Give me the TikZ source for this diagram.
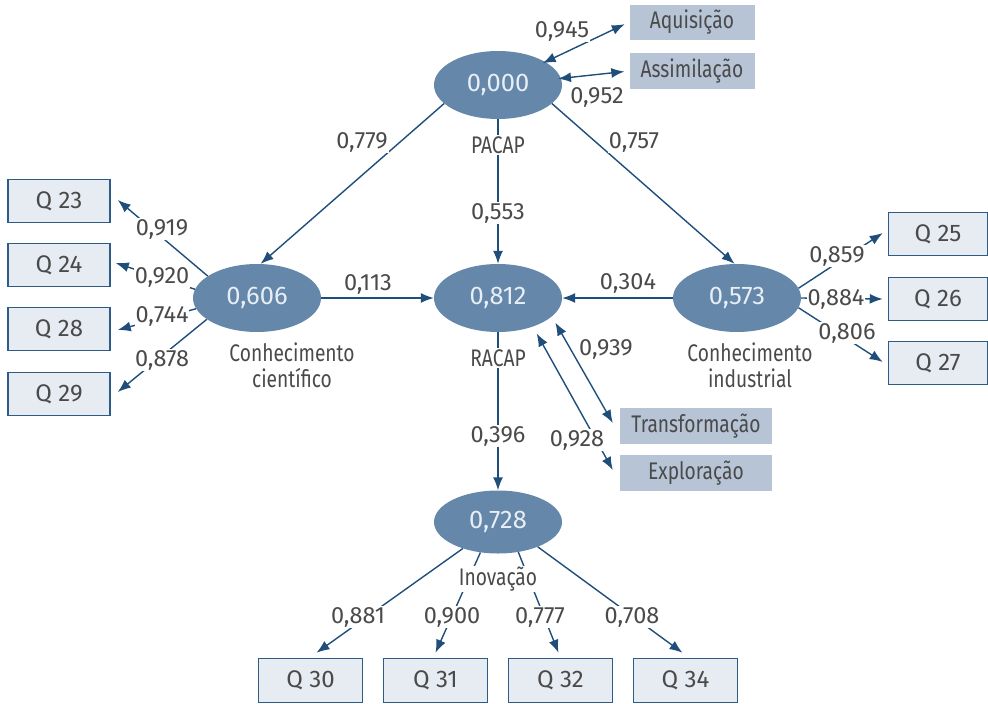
\documentclass[tikz,border=0pt]{standalone}
\usepackage{fontspec}
\setmainfont{Fira Sans}[FakeStretch=0.8]
\newfontfamily\numfont{Fira Sans}
\usetikzlibrary{shapes.geometric,arrows.meta}
\definecolor{ellfill}{HTML}{6587AA}
\definecolor{elltxt}{HTML}{E8EEF5}
\definecolor{arrcol}{HTML}{1F4E7A}
\definecolor{qfill}{HTML}{E7ECF3}
\definecolor{qborder}{HTML}{2E5C88}
\definecolor{gfill}{HTML}{B7C4D6}
\definecolor{txtcol}{HTML}{4A4A4A}
\begin{document}
\begin{tikzpicture}[x=1pt,y=-1pt,
  font=\fontsize{24}{26}\selectfont,
  lat/.style={ellipse, fill=ellfill, minimum width=128pt, minimum height=68pt, inner sep=0pt, text=elltxt, font=\numfont\fontsize{25.5}{28}\selectfont},
  qbox/.style={draw=qborder, line width=1.5pt, fill=qfill, text=txtcol, minimum width=102pt, minimum height=43pt, inner sep=0pt, font=\numfont\fontsize{24}{26}\selectfont},
  gbox/.style={fill=gfill, text=txtcol, minimum height=36pt, inner sep=0pt},
  arr/.style={draw=arrcol, line width=1.4pt, -{Latex[length=13pt,width=10pt]}},
  darr/.style={draw=arrcol, line width=1.4pt, {Latex[length=13pt,width=10pt]}-{Latex[length=13pt,width=10pt]}},
  lbl/.style={text=txtcol, fill=white, inner sep=1pt},
  num/.style={lbl, font=\numfont\fontsize{23.5}{26}\selectfont},
  captxt/.style={text=txtcol, align=center, inner sep=0pt},
]
\useasboundingbox (0,0) rectangle (988,704);

% latent variables
\node[lat] (pacap) at (498,85) {0,000};
\node[lat] (racap) at (498,298) {0,812};
\node[lat] (cc) at (257,298) {0,606};
\node[lat] (ci) at (737,298) {0,573};
\node[lat, minimum height=63pt] (inov) at (498,522) {0,728};

% grey dimension boxes
\node[gbox, minimum width=125pt, minimum height=35pt] (aq) at (692,22) {Aquisição};
\node[gbox, minimum width=125pt] (as) at (692,71) {Assimilação};
\node[gbox, minimum width=152pt] (tr) at (696,426) {Transformação};
\node[gbox, minimum width=152pt] (ex) at (696,473) {Exploração};

% indicator boxes
\node[qbox] (q23) at (59,201) {Q 23};
\node[qbox] (q24) at (59,265) {Q 24};
\node[qbox] (q28) at (59,329) {Q 28};
\node[qbox] (q29) at (59,394) {Q 29};
\node[qbox, minimum width=99pt] (q25) at (938,234) {Q 25};
\node[qbox, minimum width=99pt] (q26) at (938,299) {Q 26};
\node[qbox, minimum width=99pt] (q27) at (938,363) {Q 27};
\node[qbox, minimum width=104pt, minimum height=44pt] (q30) at (310.5,680.5) {Q 30};
\node[qbox, minimum width=104pt, minimum height=44pt] (q31) at (435.5,680.5) {Q 31};
\node[qbox, minimum width=104pt, minimum height=44pt] (q32) at (560.5,680.5) {Q 32};
\node[qbox, minimum width=104pt, minimum height=44pt] (q34) at (685.5,680.5) {Q 34};

% connectors
\draw[darr, shorten <=-3pt, shorten >=5pt] (pacap.26) -- (aq.west);
\draw[darr, shorten <=-3pt, shorten >=5pt] (pacap.6) -- (as.west);
\draw[arr] (pacap.199) -- (cc.84);
\draw[arr] (pacap.341) -- (ci.94);
\draw[arr] (pacap) -- (racap);
\draw[arr] (cc) -- (racap);
\draw[arr] (ci) -- (racap);
\draw[darr] ([shift={(9,2)}]racap.335) -- ([shift={(-7,-3)}]tr.west);
\draw[darr] ([shift={(6,6)}]racap.318) -- ([shift={(-7,-3)}]ex.west);
\draw[arr] (racap) -- (inov);

\draw[arr] (cc.156) -- ([shift={(7,-1)}]q23.east);
\draw[arr] (cc.172) -- ([shift={(5,-2)}]q24.east);
\draw[arr] (cc.190) -- ([shift={(7,1)}]q28.east);
\draw[arr] (cc.203) -- ([shift={(7,-2)}]q29.east);

\draw[arr] (ci.9) -- ([shift={(-5,-1)}]q25.west);
\draw[arr] (ci.0) -- ([shift={(-5,0)}]q26.west);
\draw[arr] (ci.351) -- ([shift={(-5,-1)}]q27.west);

\draw[arr] (inov.217) -- ([shift={(6,-5)}]q30.north);
\draw[arr] (inov.240) -- ([shift={(0,-5)}]q31.north);
\draw[arr] (inov.304) -- ([shift={(-2,-5)}]q32.north);
\draw[arr] (inov.328) -- ([shift={(-3,-5)}]q34.north);

% labels
\node[num] (l945) at (562,31) {0,945};
\node[num] (l952) at (597,97) {0,952};
\node[num] (l779) at (362,142) {0,779};
\node[num] (l757) at (634,142) {0,757};
\node[lbl] (lpacap) at (498,145) {PACAP};
\node[num] (l553) at (498,213) {0,553};
\node[num] (l113) at (368,284) {0,113};
\node[num] (l304) at (628,283) {0,304};
\node[lbl] (lracap) at (498,358) {RACAP};
\node[num] (l939) at (606,349) {0,939};
\node[num] (l928) at (577,440) {0,928};
\node[num] (l396) at (498,436) {0,396};
\node[num] (l919) at (162,229) {0,919};
\node[num] (l920) at (162,277) {0,920};
\node[num] (l744) at (162,316) {0,744};
\node[num] (l878) at (162,360) {0,878};
\node[num] (l859) at (837,256) {0,859};
\node[num] (l884) at (836,299) {0,884};
\node[num] (l806) at (847,333) {0,806};
\node[lbl] (linov) at (498,579) {Inovação};
\node[num] (l881) at (358,617) {0,881};
\node[num] (l900) at (452,617) {0,900};
\node[num] (l777) at (540,617) {0,777};
\node[num] (l708) at (632,617) {0,708};
\node[captxt] (lcc) at (292,365) {Conhecimento\\científico};
\node[captxt] (lci) at (750,365) {Conhecimento\\industrial};
\end{tikzpicture}
\end{document}
